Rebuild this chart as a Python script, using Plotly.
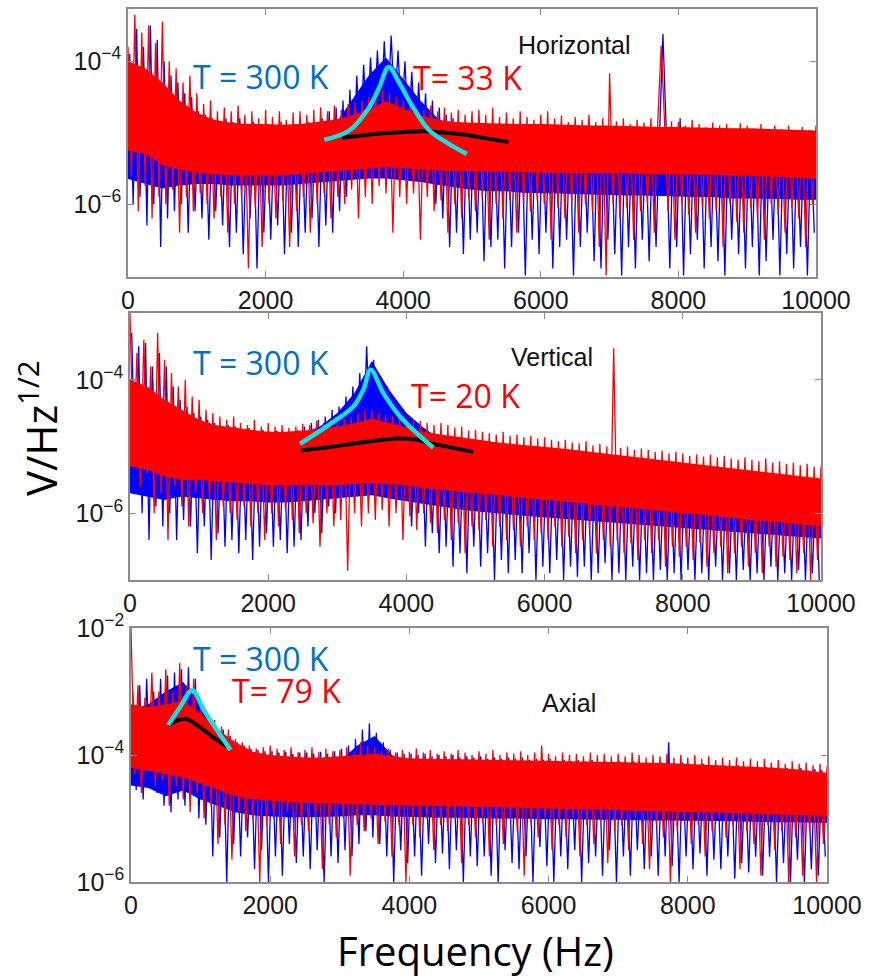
import numpy as np
import plotly.graph_objects as go

# Frequency grids (Hz) of the sampled spectra
F_RED = np.arange(0, 10001, 50)
F_BLUE = np.arange(25, 10000, 50)
F_CORE = np.arange(0, 10001, 250)   # grid of the dense-core envelopes

# Spectral amplitudes, stored as -100*log10(V/Hz^1/2)
# ---- Horizontal ----
H_RED = [380, 560, 335, 610, 360, 575, 350, 620, 375, 590,
         345, 600, 400, 580, 410, 640, 430, 590, 420, 610,
         445, 585, 460, 600, 455, 620, 470, 590, 465, 640,
         470, 600, 462, 590, 475, 690, 470, 605, 480, 660,
         468, 600, 478, 620, 470, 595, 482, 660, 472, 610,
         470, 590, 475, 640, 468, 600, 465, 585, 470, 620,
         462, 590, 468, 600, 460, 580, 458, 620, 455, 590,
         450, 600, 445, 575, 440, 585, 445, 640, 450, 590,
         455, 600, 462, 585, 465, 650, 468, 590, 462, 610,
         470, 595, 465, 640, 472, 600, 468, 620, 475, 590,
         470, 610, 468, 590, 475, 650, 465, 600, 478, 620,
         472, 595, 480, 640, 470, 600, 478, 610, 482, 595,
         475, 600, 470, 650, 480, 605, 476, 620, 485, 600,
         478, 640, 482, 600, 475, 610, 485, 660, 480, 700,
         417, 600, 484, 620, 480, 605, 488, 650, 482, 610,
         486, 600, 480, 640, 485, 378, 488, 610, 484, 650,
         485, 600, 490, 615, 482, 640, 488, 605, 492, 620,
         486, 610, 490, 660, 488, 600, 494, 625, 487, 640,
         490, 605, 494, 620, 488, 650, 496, 600, 490, 615,
         495, 640, 490, 605, 498, 620, 492, 660, 496, 600,
         490]
H_BLUE = [390, 600, 355, 590, 380, 630, 350, 600, 370, 660,
          400, 620, 420, 610, 430, 600, 445, 640, 450, 610,
          470, 620, 475, 650, 480, 610, 485, 630, 480, 660,
          485, 640, 480, 670, 490, 620, 485, 690, 490, 640,
          488, 650, 492, 630, 485, 670, 490, 640, 488, 660,
          490, 640, 485, 620, 490, 660, 480, 630, 470, 640,
          465, 610, 455, 590, 440, 560, 420, 520, 405, 500,
          395, 490, 385, 480, 372, 475, 364, 470, 385, 485,
          400, 500, 415, 520, 430, 540, 445, 560, 455, 600,
          465, 620, 475, 660, 480, 640, 485, 670, 488, 650,
          490, 640, 492, 680, 488, 660, 495, 650, 490, 690,
          495, 660, 492, 640, 498, 700, 494, 650, 496, 670,
          498, 640, 495, 690, 500, 660, 496, 650, 502, 700,
          498, 660, 500, 640, 504, 680, 498, 690, 502, 650,
          500, 670, 505, 700, 498, 660, 504, 690, 500, 650,
          506, 680, 500, 660, 504, 362, 502, 690, 505, 660,
          480, 700, 504, 670, 500, 650, 506, 690, 502, 660,
          505, 680, 500, 700, 506, 650, 502, 670, 508, 690,
          504, 660, 508, 700, 502, 680, 506, 650, 504, 700,
          508, 670, 504, 690, 510, 660, 506, 700, 508, 640]
H_RED_HI = [400, 410, 430, 455, 472, 482, 486, 488, 488, 489,
            488, 485, 482, 476, 468, 456, 466, 476, 482, 485,
            486, 487, 487, 488, 488, 489, 489, 490, 490, 491,
            491, 492, 492, 493, 493, 494, 494, 495, 495, 496, 497]
H_RED_LO = [525, 530, 545, 552, 556, 558, 560, 560, 560, 560,
            558, 556, 554, 552, 550, 548, 550, 552, 553, 554,
            554, 555, 555, 555, 556, 556, 556, 557, 557, 557,
            558, 558, 558, 559, 559, 560, 560, 561, 562, 563, 565]
H_BLUE_HI = [420, 430, 450, 480, 495, 500, 500, 500, 500, 500,
             500, 495, 490, 455, 420, 395, 425, 455, 480, 495,
             500, 502, 503, 504, 505, 505, 506, 506, 507, 507,
             508, 508, 508, 509, 509, 510, 510, 510, 511, 511, 512]
H_BLUE_LO = [565, 572, 578, 574, 572, 572, 574, 574, 574, 574,
             572, 570, 568, 566, 564, 564, 566, 569, 573, 577,
             580, 582, 582, 584, 584, 585, 586, 587, 587, 588,
             588, 589, 590, 590, 590, 592, 592, 592, 593, 594, 594]
H_FIT300_F = [2853, 3217, 3508, 3654, 3789, 3945, 4139, 4381, 4653, 4925]
H_FIT300_L = [-5.10, -4.97, -4.64, -4.36, -4.08, -4.31, -4.64, -4.97, -5.15, -5.30]
H_FITLOW_F = [3115, 3400, 3700, 4000, 4300, 4600, 4900, 5200, 5530]
H_FITLOW_L = [-5.07, -5.04, -5.01, -4.99, -4.98, -5.00, -5.03, -5.08, -5.13]

# ---- Vertical ----
V_RED = [300, 520, 360, 560, 340, 540, 380, 600, 330, 570,
         370, 640, 390, 560, 410, 590, 400, 620, 425, 570,
         430, 600, 445, 580, 450, 640, 455, 590, 460, 600,
         455, 610, 465, 590, 468, 620, 460, 600, 470, 640,
         465, 600, 470, 620, 468, 595, 472, 610, 470, 630,
         466, 600, 468, 615, 462, 650, 465, 600, 460, 620,
         462, 610, 458, 686, 455, 600, 450, 620, 445, 600,
         445, 610, 450, 595, 452, 620, 455, 600, 455, 640,
         458, 605, 460, 625, 462, 600, 465, 615, 468, 630,
         465, 610, 468, 640, 472, 615, 470, 660, 476, 620,
         475, 625, 478, 610, 480, 650, 482, 620, 478, 640,
         484, 625, 482, 650, 486, 620, 484, 640, 488, 630,
         486, 640, 490, 620, 492, 650, 490, 635, 494, 660,
         495, 640, 492, 625, 498, 660, 496, 640, 500, 650,
         353, 640, 502, 660, 500, 645, 505, 670, 503, 640,
         505, 660, 508, 640, 506, 680, 510, 650, 508, 665,
         510, 650, 514, 670, 512, 645, 515, 680, 512, 660,
         516, 650, 514, 690, 518, 660, 520, 650, 516, 680,
         520, 660, 522, 690, 518, 650, 524, 680, 522, 665,
         526, 670, 524, 690, 528, 660, 526, 700, 530, 670,
         530]
V_BLUE = [330, 560, 350, 600, 345, 640, 380, 590, 360, 620,
          380, 600, 410, 640, 430, 610, 440, 620, 450, 660,
          455, 620, 460, 670, 465, 630, 470, 650, 468, 640,
          470, 660, 475, 640, 472, 670, 478, 650, 475, 630,
          478, 650, 476, 640, 480, 660, 478, 650, 475, 640,
          470, 620, 465, 600, 460, 630, 455, 590, 445, 600,
          440, 560, 425, 540, 410, 520, 390, 500, 350, 490,
          370, 480, 395, 500, 410, 520, 430, 540, 445, 580,
          460, 620, 470, 600, 478, 650, 482, 630, 485, 660,
          488, 650, 490, 680, 492, 660, 494, 690, 496, 650,
          498, 680, 500, 660, 502, 700, 504, 670, 505, 690,
          506, 670, 508, 690, 510, 660, 512, 700, 514, 680,
          515, 690, 516, 670, 518, 700, 520, 680, 522, 695,
          523, 680, 524, 700, 526, 690, 527, 675, 528, 700,
          530, 690, 530, 700, 532, 680, 533, 700, 534, 690,
          535, 700, 536, 685, 537, 700, 538, 690, 539, 700,
          540, 685, 540, 700, 542, 690, 542, 700, 544, 680,
          544, 700, 545, 690, 546, 700, 547, 685, 548, 700,
          548, 690, 549, 700, 550, 680, 550, 700, 551, 690,
          552, 700, 552, 685, 553, 700, 554, 690, 555, 700]
V_RED_HI = [400, 410, 430, 445, 460, 468, 472, 475, 478, 478,
            476, 474, 470, 465, 458, 465, 472, 478, 482, 486,
            490, 493, 496, 498, 500, 503, 506, 509, 512, 515,
            518, 521, 524, 527, 530, 533, 536, 539, 542, 545, 548]
V_RED_LO = [530, 535, 545, 550, 550, 552, 555, 556, 558, 558,
            558, 558, 558, 556, 555, 556, 558, 562, 565, 568,
            570, 572, 575, 577, 580, 582, 585, 587, 590, 592,
            595, 597, 600, 602, 605, 607, 610, 612, 615, 617, 620]
V_BLUE_HI = [400, 420, 440, 460, 480, 480, 480, 480, 480, 480,
             480, 470, 450, 420, 372, 415, 450, 472, 490, 500,
             505, 508, 510, 512, 515, 518, 521, 524, 527, 530,
             533, 536, 539, 542, 545, 548, 551, 554, 557, 560, 563]
V_BLUE_LO = [570, 575, 580, 575, 578, 580, 582, 582, 584, 584,
             582, 580, 578, 575, 573, 578, 582, 587, 590, 594,
             597, 600, 602, 604, 606, 608, 610, 612, 614, 616,
             618, 620, 622, 624, 626, 628, 630, 632, 634, 636, 638]
V_FIT300_F = [2460, 2942, 3232, 3377, 3483, 3666, 3907, 4149, 4390]
V_FIT300_L = [-4.96, -4.63, -4.40, -4.15, -3.85, -4.20, -4.55, -4.80, -5.02]
V_FITLOW_F = [2480, 2942, 3424, 3858, 4149, 4342, 4968]
V_FITLOW_L = [-5.06, -5.00, -4.93, -4.88, -4.90, -4.95, -5.08]

# ---- Axial ----
A_RED = [200, 430, 290, 460, 310, 420, 270, 450, 300, 440,
         265, 480, 300, 450, 255, 470, 290, 490, 280, 460,
         320, 500, 335, 480, 345, 540, 355, 510, 360, 565,
         375, 490, 380, 520, 385, 500, 390, 600, 388, 510,
         385, 500, 390, 540, 392, 490, 388, 560, 395, 510,
         392, 520, 388, 500, 395, 580, 390, 510, 394, 530,
         392, 500, 388, 590, 395, 510, 380, 520, 385, 500,
         388, 540, 394, 505, 390, 560, 396, 510, 392, 600,
         395, 510, 390, 530, 396, 500, 392, 550, 398, 510,
         394, 520, 398, 500, 392, 570, 396, 510, 400, 530,
         394, 505, 398, 560, 392, 510, 400, 540, 396, 500,
         398, 520, 394, 590, 400, 510, 396, 530, 385, 500,
         398, 550, 402, 510, 396, 530, 400, 500, 398, 560,
         402, 510, 396, 540, 400, 505, 398, 570, 402, 520,
         398, 510, 402, 550, 396, 500, 400, 540, 404, 580,
         400, 510, 402, 530, 398, 600, 404, 520, 400, 505,
         404, 540, 400, 510, 406, 560, 402, 520, 408, 500,
         404, 530, 408, 510, 404, 580, 410, 520, 406, 540,
         410, 590, 406, 510, 412, 550, 408, 520, 414, 600,
         410, 530, 414, 590, 412, 520, 416, 600, 414, 540,
         418]
A_BLUE = [300, 455, 290, 470, 280, 440, 300, 460, 280, 480,
          275, 490, 270, 470, 265, 480, 262, 460, 280, 500,
          330, 510, 340, 560, 355, 530, 360, 600, 370, 540,
          380, 560, 385, 530, 390, 580, 392, 550, 394, 600,
          394, 560, 396, 590, 395, 540, 398, 570, 396, 560,
          396, 580, 398, 550, 395, 600, 398, 560, 394, 570,
          390, 550, 385, 560, 375, 540, 360, 520, 350, 530,
          365, 540, 380, 560, 392, 600, 396, 550, 398, 570,
          398, 560, 400, 590, 398, 540, 402, 570, 400, 555,
          402, 580, 400, 550, 404, 600, 402, 560, 404, 575,
          402, 560, 406, 590, 404, 600, 406, 550, 404, 570,
          406, 580, 404, 560, 408, 600, 406, 545, 408, 575,
          406, 600, 410, 560, 408, 580, 410, 550, 408, 600,
          410, 570, 408, 560, 412, 590, 410, 550, 412, 600,
          410, 560, 412, 590, 410, 550, 414, 580, 412, 560,
          414, 590, 412, 560, 380, 575, 414, 600, 412, 560,
          414, 580, 416, 555, 414, 590, 416, 565, 418, 580,
          416, 560, 418, 595, 416, 570, 420, 585, 418, 560,
          420, 590, 418, 560, 420, 600, 422, 570, 420, 600,
          422, 565, 420, 600, 424, 580, 422, 590, 424, 560]
A_RED_HI = [320, 325, 320, 315, 335, 360, 380, 395, 400, 402,
            404, 404, 402, 400, 398, 402, 405, 406, 406, 407,
            407, 408, 408, 409, 409, 410, 410, 411, 411, 412,
            412, 413, 414, 415, 416, 417, 418, 420, 422, 425, 428]
A_RED_LO = [420, 425, 430, 435, 445, 455, 465, 470, 472, 474,
            475, 476, 477, 478, 478, 479, 480, 480, 481, 481,
            482, 482, 483, 484, 484, 485, 486, 486, 487, 488,
            488, 489, 490, 490, 491, 492, 493, 493, 494, 495, 496]
A_BLUE_HI = [330, 320, 300, 285, 320, 370, 400, 410, 412, 414,
             414, 414, 410, 385, 370, 400, 415, 416, 417, 418,
             418, 419, 419, 420, 420, 421, 421, 422, 422, 423,
             423, 424, 424, 425, 425, 426, 427, 428, 430, 432, 435]
A_BLUE_LO = [448, 452, 465, 456, 470, 480, 490, 495, 497, 498,
             498, 498, 497, 495, 495, 497, 498, 498, 499, 499,
             500, 500, 500, 501, 501, 501, 502, 502, 502, 503,
             503, 503, 504, 504, 504, 505, 505, 506, 506, 507, 507]
A_FIT300_F = [535, 708, 880, 1044, 1237, 1430]
A_FIT300_L = [-3.53, -3.24, -2.98, -3.29, -3.61, -3.92]
A_FITLOW_F = [535, 660, 780, 949, 1141, 1382]
A_FITLOW_L = [-3.53, -3.46, -3.43, -3.53, -3.69, -3.87]

PANEL_NAMES = ["Horizontal", "Vertical", "Axial"]
HOT_LABEL = "T = 300 K"
COLD_LABELS = ["T= 33 K", "T= 20 K", "T= 79 K"]
X_TICKS = [0, 2000, 4000, 6000, 8000, 10000]

W, H = 869, 980
BLUE, RED, CYAN = "#0000FF", "#FF0000", "#12E2E2"


def amp(v):
    return 10 ** (-np.asarray(v, dtype=float) / 100.0)


def lin(l):
    return 10 ** np.asarray(l, dtype=float)


data = [
    (H_BLUE, H_RED, H_BLUE_HI, H_BLUE_LO, H_RED_HI, H_RED_LO,
     H_FIT300_F, H_FIT300_L, H_FITLOW_F, H_FITLOW_L),
    (V_BLUE, V_RED, V_BLUE_HI, V_BLUE_LO, V_RED_HI, V_RED_LO,
     V_FIT300_F, V_FIT300_L, V_FITLOW_F, V_FITLOW_L),
    (A_BLUE, A_RED, A_BLUE_HI, A_BLUE_LO, A_RED_HI, A_RED_LO,
     A_FIT300_F, A_FIT300_L, A_FITLOW_F, A_FITLOW_L),
]

# layout boxes in pixels: left, right, top, bottom
boxes = [(128, 816, 9, 277), (130, 821, 313, 580), (131, 827, 628, 882)]
yranges = [[-7.02, -3.27], [-7.0, -3.0], [-6.0, -2.0]]
ytickv = [[1e-6, 1e-4], [1e-6, 1e-4], [1e-6, 1e-4, 1e-2]]
yticktxt = [["10<sup>−6</sup>", "10<sup>−4</sup>"],
            ["10<sup>−6</sup>", "10<sup>−4</sup>"],
            ["10<sup>−6</sup>", "10<sup>−4</sup>", "10<sup>−2</sup>"]]

fig = go.Figure()
for i, (blue, red, bhi, blo, rhi, rlo, f3, l3, fl, ll) in enumerate(data):
    xa = "x" if i == 0 else f"x{i+1}"
    ya = "y" if i == 0 else f"y{i+1}"
    for col, lo, hi, spec, fx in ((BLUE, blo, bhi, blue, F_BLUE), (RED, rlo, rhi, red, F_RED)):
        fig.add_trace(go.Scatter(x=F_CORE, y=amp(lo), mode="lines", line=dict(width=0, color=col),
                                 xaxis=xa, yaxis=ya, hoverinfo="skip"))
        fig.add_trace(go.Scatter(x=F_CORE, y=amp(hi), mode="lines", line=dict(width=0, color=col),
                                 fill="tonexty", fillcolor=col, xaxis=xa, yaxis=ya, hoverinfo="skip"))
        fig.add_trace(go.Scatter(x=fx, y=amp(spec), mode="lines",
                                 line=dict(color=col, width=1.3), xaxis=xa, yaxis=ya))
    fig.add_trace(go.Scatter(x=fl, y=lin(ll), mode="lines", line_shape="spline",
                             line=dict(color="#000000", width=4), xaxis=xa, yaxis=ya))
    fig.add_trace(go.Scatter(x=f3, y=lin(l3), mode="lines", line_shape="spline",
                             line=dict(color=CYAN, width=4.5), xaxis=xa, yaxis=ya))

axis_common = dict(showline=True, linecolor="#8c8c8c", linewidth=1.5, mirror="ticks",
                   ticks="inside", ticklen=6, tickcolor="#8c8c8c", showgrid=False,
                   zeroline=False, automargin=False,
                   tickfont=dict(family="Liberation Sans, Arial, sans-serif", size=25,
                                 color="#1a1a1a"))
layout = {}
for i, (l, r, t, b) in enumerate(boxes):
    xk = "xaxis" if i == 0 else f"xaxis{i+1}"
    yk = "yaxis" if i == 0 else f"yaxis{i+1}"
    ya = "y" if i == 0 else f"y{i+1}"
    xa = "x" if i == 0 else f"x{i+1}"
    layout[xk] = dict(axis_common, domain=[l / W, r / W], anchor=ya, range=[0, 10000],
                      tickvals=X_TICKS, ticktext=[str(v) for v in X_TICKS])
    layout[yk] = dict(axis_common, domain=[1 - b / H, 1 - t / H], anchor=xa, type="log",
                      range=yranges[i], tickvals=ytickv[i], ticktext=yticktxt[i])

fig.update_layout(**layout)

ann = []
calibri = "Open Sans, Lato, sans-serif"
arial = "Liberation Sans, Arial, sans-serif"
hot_pos = [(261, 76), (261, 362), (261, 658)]
cold_pos = [(467, 78), (466, 395), (286, 690)]
name_pos = [(574, 45), (552, 357), (569, 703)]
for i in range(3):
    ann.append(dict(text=HOT_LABEL, x=hot_pos[i][0] / W, y=1 - hot_pos[i][1] / H,
                    font=dict(family=calibri, size=32, color="#0070C0")))
    ann.append(dict(text=COLD_LABELS[i], x=cold_pos[i][0] / W, y=1 - cold_pos[i][1] / H,
                    font=dict(family=calibri, size=32, color="#FF0000")))
    ann.append(dict(text=PANEL_NAMES[i], x=name_pos[i][0] / W, y=1 - name_pos[i][1] / H,
                    font=dict(family=arial, size=25, color="#111111")))
ann.append(dict(text="Frequency (Hz)", x=475 / W, y=1 - 950 / H,
                font=dict(family=calibri, size=40, color="#000000")))
ann.append(dict(text="V/Hz<sup>1/2</sup>", x=38 / W, y=1 - 428 / H, textangle=-90,
                font=dict(family=calibri, size=42, color="#000000")))
for a in ann:
    a.update(xref="paper", yref="paper", showarrow=False, xanchor="center", yanchor="middle")

fig.update_layout(width=W, height=H, margin=dict(l=0, r=0, t=0, b=0),
                  paper_bgcolor="white", plot_bgcolor="white", showlegend=False,
                  annotations=ann)

fig.write_html("out.html", config={"displayModeBar": False},
               post_script="document.body.style.margin='0';document.body.style.padding='0';")
